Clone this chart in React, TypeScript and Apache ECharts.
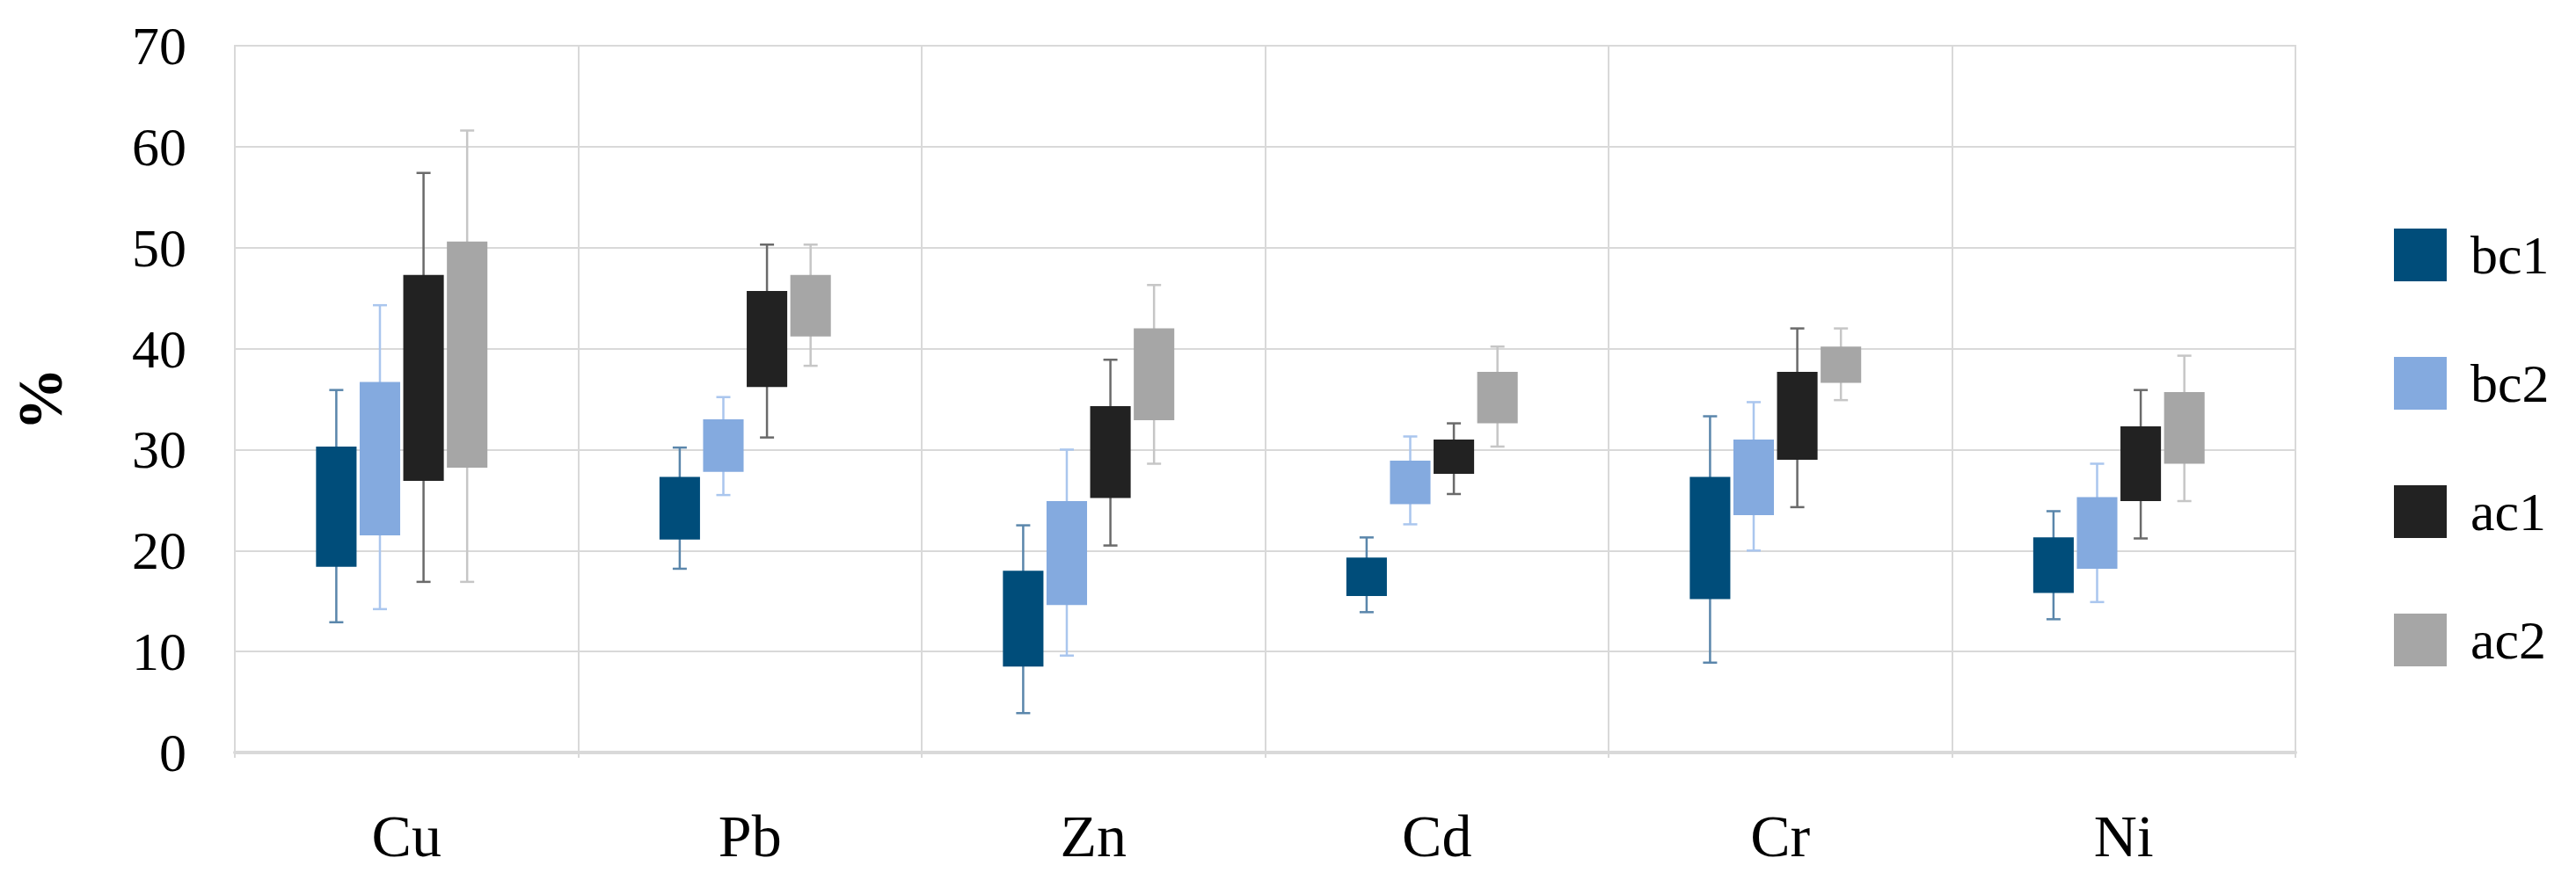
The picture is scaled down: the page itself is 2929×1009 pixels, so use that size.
import React, { useEffect, useRef } from "react";
import * as echarts from "echarts";

const categories = ["Cu", "Pb", "Zn", "Cd", "Cr", "Ni"];
const seriesNames = ["bc1", "bc2", "ac1", "ac2"];
const yTicks = [0, 10, 20, 30, 40, 50, 60, 70];

// per series: min, lower box edge, upper box edge, max
const bc1Min = [12.9, 18.2, 3.9, 13.9, 8.9, 13.2];
const bc1Low = [18.4, 21.1, 8.5, 15.5, 15.2, 15.8];
const bc1High = [30.3, 27.3, 18.0, 19.3, 27.3, 21.3];
const bc1Max = [35.9, 30.2, 22.5, 21.3, 33.3, 23.9];

const bc2Min = [14.2, 25.5, 9.6, 22.6, 20.0, 14.9];
const bc2Low = [21.5, 27.8, 14.6, 24.6, 23.5, 18.2];
const bc2High = [36.7, 33.0, 24.9, 28.9, 31.0, 25.3];
const bc2Max = [44.3, 35.2, 30.0, 31.3, 34.7, 28.6];

const ac1Min = [16.9, 31.2, 20.5, 25.6, 24.3, 21.2];
const ac1Low = [26.9, 36.2, 25.2, 27.6, 29.0, 24.9];
const ac1High = [47.3, 45.7, 34.3, 31.0, 37.7, 32.3];
const ac1Max = [57.4, 50.3, 38.9, 32.6, 42.0, 35.9];

const ac2Min = [16.9, 38.3, 28.6, 30.3, 34.9, 24.9];
const ac2Low = [28.2, 41.2, 32.9, 32.6, 36.6, 28.6];
const ac2High = [50.6, 47.3, 42.0, 37.7, 40.2, 35.7];
const ac2Max = [61.6, 50.3, 46.3, 40.2, 42.0, 39.3];

const boxColors = ["#004d7a", "#84aadf", "#222222", "#a6a6a6"];
const whiskerColors = ["#5a86ab", "#aac6ee", "#6a6a6a", "#c6c6c6"];

const seriesStats = [
  [bc1Min, bc1Low, bc1High, bc1Max],
  [bc2Min, bc2Low, bc2High, bc2Max],
  [ac1Min, ac1Low, ac1High, ac1Max],
  [ac2Min, ac2Low, ac2High, ac2Max],
];

const FONT = "Liberation Serif";

export default function App() {
  const ref = useRef<HTMLDivElement>(null);
  useEffect(() => {
    if (!ref.current) return;
    const chart = echarts.init(ref.current, null, { renderer: "svg" });

    const series = seriesNames.map((name, si) => {
      const [mn, lo, hi, mx] = seriesStats[si];
      const data = categories.map((_, i) => [i, mn[i], lo[i], hi[i], mx[i]]);
      return {
        name,
        type: "custom",
        itemStyle: { color: boxColors[si] },
        encode: { x: 0, y: [1, 2, 3, 4] },
        data,
        renderItem: (params: any, api: any) => {
          const idx = api.value(0);
          const band = api.size([1, 0])[0];
          const base = api.coord([idx, 0])[0];
          const cx = base + (si - 1.5) * band * 0.127 - band * 0.014;
          const bw = band * 0.118;
          const yMin = api.coord([idx, api.value(1)])[1];
          const yLo = api.coord([idx, api.value(2)])[1];
          const yHi = api.coord([idx, api.value(3)])[1];
          const yMax = api.coord([idx, api.value(4)])[1];
          const cap = 8;
          const ls = { stroke: whiskerColors[si], lineWidth: 2.5 };
          return {
            type: "group",
            children: [
              { type: "line", shape: { x1: cx, y1: yMin, x2: cx, y2: yMax }, style: ls },
              { type: "line", shape: { x1: cx - cap, y1: yMin, x2: cx + cap, y2: yMin }, style: ls },
              { type: "line", shape: { x1: cx - cap, y1: yMax, x2: cx + cap, y2: yMax }, style: ls },
              {
                type: "rect",
                shape: { x: cx - bw / 2, y: yHi, width: bw, height: yLo - yHi },
                style: { fill: boxColors[si] },
              },
            ],
          };
        },
      };
    });

    chart.setOption({
      animation: false,
      backgroundColor: "#ffffff",
      grid: {
        left: 267,
        right: 319,
        top: 52,
        bottom: 153,
        show: true,
        borderColor: "#d9d9d9",
        borderWidth: 2,
      },
      legend: {
        orient: "vertical",
        left: 2717,
        top: 254,
        itemWidth: 60,
        itemHeight: 60,
        itemGap: 84,
        icon: "rect",
        data: seriesNames,
        textStyle: {
          fontFamily: FONT,
          fontSize: 62,
          color: "#000",
          padding: [0, 0, 0, 22],
        },
      },
      xAxis: {
        type: "category",
        data: categories,
        boundaryGap: true,
        axisLine: { show: true, lineStyle: { color: "#d9d9d9", width: 4 } },
        axisTick: { show: true, length: 6, lineStyle: { color: "#d9d9d9", width: 2 } },
        splitLine: { show: true, lineStyle: { color: "#d9d9d9", width: 2 } },
        axisLabel: {
          fontFamily: FONT,
          fontSize: 68,
          lineHeight: 68,
          color: "#000",
          margin: 61,
        },
      },
      yAxis: {
        type: "value",
        min: yTicks[0],
        max: yTicks[yTicks.length - 1],
        interval: 10,
        name: "%",
        nameLocation: "middle",
        nameRotate: 90,
        nameGap: 185,
        nameTextStyle: {
          fontFamily: FONT,
          fontSize: 72,
          fontWeight: "bold",
          color: "#000",
        },
        axisLine: { show: false },
        axisTick: { show: false },
        splitLine: { show: true, lineStyle: { color: "#d9d9d9", width: 2 } },
        axisLabel: {
          fontFamily: FONT,
          fontSize: 62,
          color: "#000",
          margin: 55,
        },
      },
      series,
    });
    return () => chart.dispose();
  }, []);
  return (
    <div
      ref={ref}
      style={{ position: "fixed", left: 0, top: 0, width: 2929, height: 1009 }}
    />
  );
}
